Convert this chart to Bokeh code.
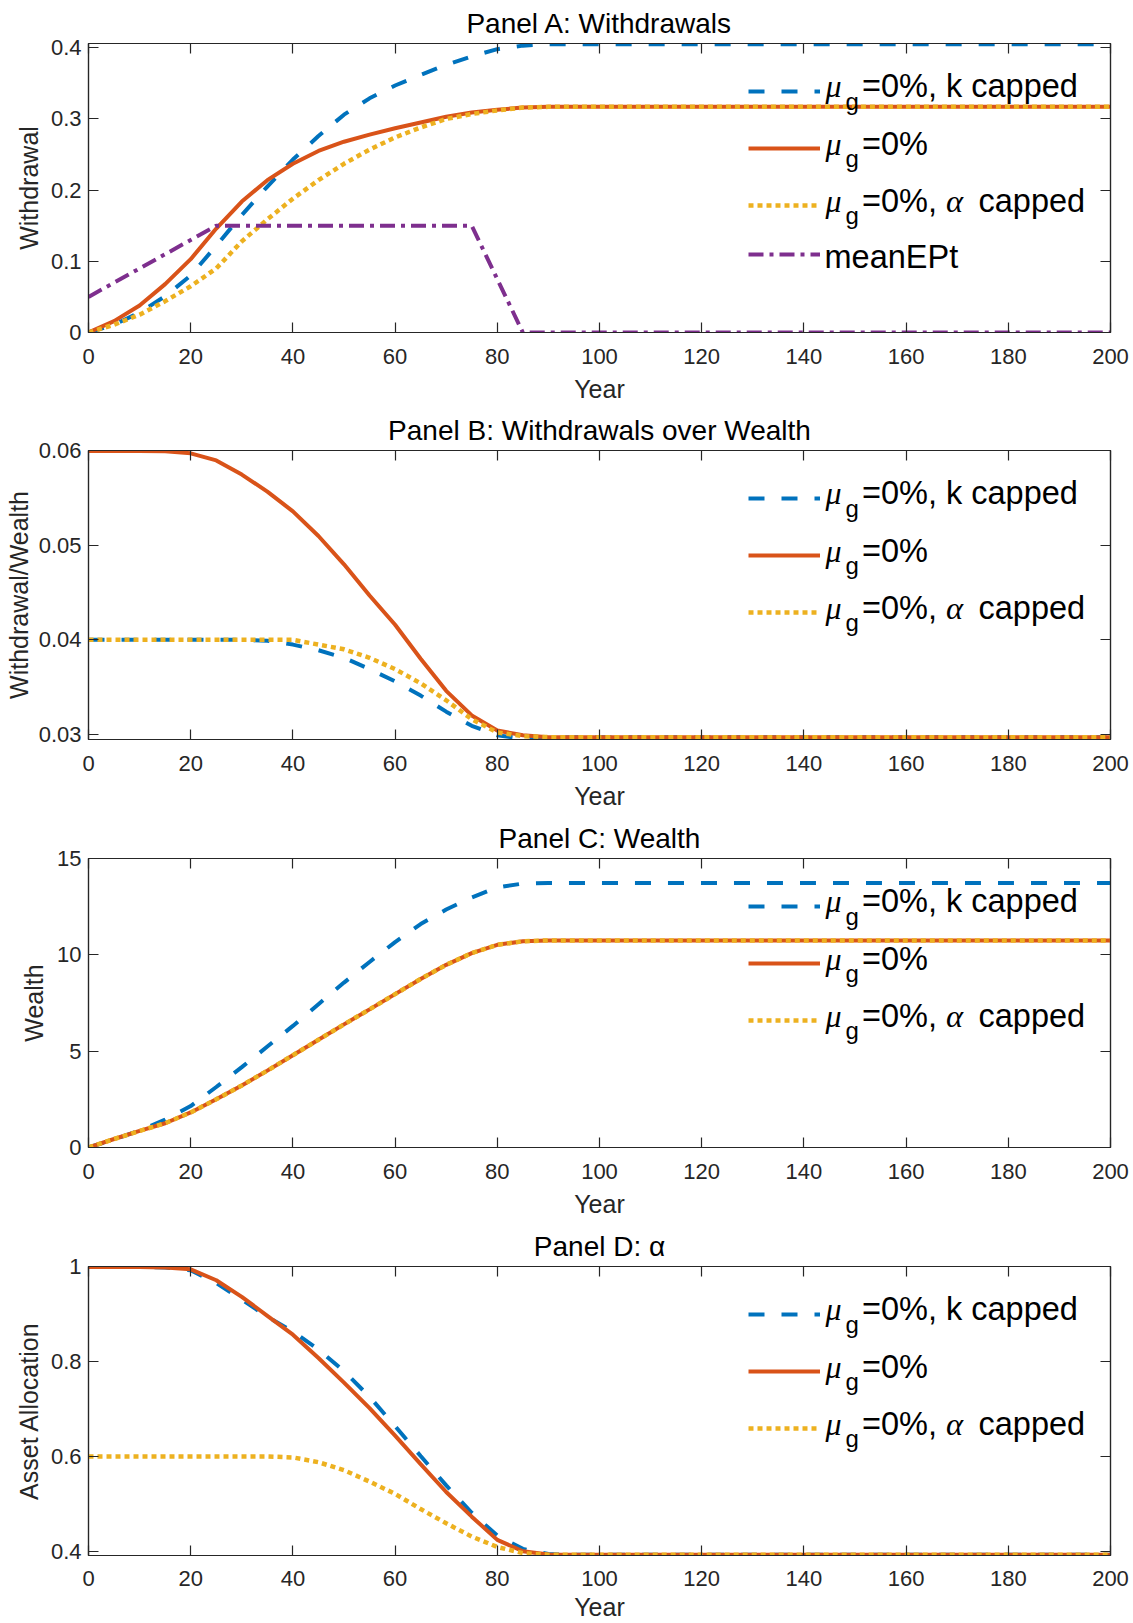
from bokeh.plotting import figure
from bokeh.models import (Range1d, FixedTicker, LinearAxis, NumeralTickFormatter,
                          Label, Legend, LegendItem, CustomLabelingPolicy)
from bokeh.layouts import column
from bokeh.embed import file_html
from bokeh.resources import INLINE

# ---------------- data ----------------
years = [0, 5, 10, 15, 20, 25, 30, 35, 40, 45, 50, 55, 60, 65, 70, 75, 80, 85, 90, 95, 100, 200]

# Panel A: withdrawals
wd_kcap = [0, 0.011, 0.028, 0.051, 0.080, 0.122, 0.165, 0.205, 0.243, 0.276, 0.306, 0.329,
           0.347, 0.362, 0.376, 0.388, 0.398, 0.403, 0.405, 0.405, 0.405, 0.405]
wd_base = [0, 0.016, 0.038, 0.068, 0.103, 0.146, 0.184, 0.214, 0.237, 0.255, 0.268, 0.278,
           0.287, 0.295, 0.303, 0.309, 0.313, 0.316, 0.317, 0.317, 0.317, 0.317]
wd_acap = [0, 0.011, 0.025, 0.044, 0.065, 0.090, 0.128, 0.159, 0.188, 0.214, 0.237, 0.257,
           0.274, 0.288, 0.300, 0.307, 0.312, 0.316, 0.317, 0.317, 0.317, 0.317]
mean_ep = [0.05, 0.07, 0.09, 0.11, 0.13, 0.15, 0.15, 0.15, 0.15, 0.15, 0.15, 0.15,
           0.15, 0.15, 0.15, 0.15, 0.075, 0, 0, 0, 0, 0]

# Panel B: withdrawals over wealth
ratio_kcap = [0.04, 0.04, 0.04, 0.04, 0.04, 0.04, 0.04, 0.0399, 0.0395, 0.0389, 0.0381, 0.0369,
              0.0356, 0.0341, 0.0324, 0.0309, 0.0299, 0.02955, 0.0296, 0.0297, 0.0297, 0.0297]
ratio_base = [0.06, 0.06, 0.06, 0.05998, 0.05975, 0.0590, 0.0575, 0.0557, 0.0536, 0.0510, 0.0480,
              0.0447, 0.0416, 0.0380, 0.0346, 0.0320, 0.0304, 0.0299, 0.0297, 0.0297, 0.0297, 0.0297]
ratio_acap = [0.04, 0.04, 0.04, 0.04, 0.04, 0.04, 0.04, 0.04, 0.04, 0.0395, 0.0390, 0.0381,
              0.0369, 0.0354, 0.0336, 0.0316, 0.0302, 0.0298, 0.0297, 0.0297, 0.0297, 0.0297]

# Panel C: wealth
wealth_kcap = [0, 0.42, 0.88, 1.45, 2.15, 3.14, 4.17, 5.24, 6.31, 7.44, 8.56, 9.63,
               10.66, 11.6, 12.35, 12.98, 13.5, 13.7, 13.73, 13.73, 13.73, 13.73]
wealth_base = [0, 0.44, 0.86, 1.26, 1.82, 2.50, 3.22, 3.99, 4.79, 5.59, 6.39, 7.17,
               7.96, 8.75, 9.48, 10.09, 10.52, 10.70, 10.75, 10.75, 10.75, 10.75]
wealth_acap = [0, 0.44, 0.86, 1.26, 1.82, 2.50, 3.22, 3.99, 4.79, 5.59, 6.39, 7.17,
               7.96, 8.75, 9.48, 10.09, 10.52, 10.70, 10.75, 10.75, 10.75, 10.75]

# Panel D: asset allocation
alloc_kcap = [1.0, 1.0, 1.0, 0.999, 0.993, 0.966, 0.931, 0.895, 0.864, 0.826, 0.780, 0.726,
              0.664, 0.601, 0.539, 0.481, 0.433, 0.405, 0.394, 0.3925, 0.3925, 0.3925]
alloc_base = [1.0, 1.0, 1.0, 0.999, 0.995, 0.972, 0.937, 0.897, 0.857, 0.808, 0.756, 0.702,
              0.644, 0.584, 0.525, 0.473, 0.424, 0.400, 0.393, 0.3925, 0.3925, 0.3925]
alloc_acap = [0.6, 0.6, 0.6, 0.6, 0.6, 0.6, 0.6, 0.6, 0.598, 0.588, 0.571, 0.547,
              0.521, 0.489, 0.459, 0.431, 0.409, 0.396, 0.3925, 0.3925, 0.3925, 0.3925]

x_ticks = [0, 20, 40, 60, 80, 100, 120, 140, 160, 180, 200]

# ---------------- styling ----------------
BLUE, ORANGE, YELLOW, PURPLE = "#0072BD", "#D95319", "#EDB120", "#7E2F8E"
AX = "#262626"
SANS = "Liberation Sans"
SERIF = "Liberation Serif"
FRAME_H = 289
TOP = 43
STYLE = {
    "k": dict(line_color=BLUE, line_width=4, line_dash="16 17"),
    "base": dict(line_color=ORANGE, line_width=4, line_dash="solid"),
    "a": dict(line_color=YELLOW, line_width=4.5, line_dash="5 4"),
    "ep": dict(line_color=PURPLE, line_width=4, line_dash="15 6 4 6"),
}
HIDE = CustomLabelingPolicy(code="""
try { for (const i of [...indices]) { indices.unset(i) } } catch (e) {}
return indices
""")


def style_axis(ax, show):
    ax.axis_line_color = AX
    ax.axis_line_width = 1.2
    ax.major_tick_line_color = AX
    ax.major_tick_line_width = 1.2
    ax.major_tick_in = 10
    ax.major_tick_out = 0
    ax.minor_tick_line_color = None
    ax.major_label_text_font = SANS
    ax.major_label_text_color = AX
    ax.axis_label_text_font = SANS
    ax.axis_label_text_font_size = "25px"
    ax.axis_label_text_font_style = "normal"
    ax.axis_label_text_color = AX
    ax.formatter = NumeralTickFormatter(format="0.[00]")
    if show:
        ax.major_label_text_font_size = "22px"
    else:
        ax.major_label_text_font_size = "0px"
        ax.major_label_text_color = None
        ax.major_label_standoff = 0
        ax.major_label_policy = HIDE


def panel(title, ylabel, yrange, yticks, height, xl_std, xa_std, ya_std):
    p = figure(width=1130, height=height, x_range=Range1d(0, 200), y_range=Range1d(*yrange),
               output_backend="svg", toolbar_location=None,
               min_border_left=88, min_border_right=20, min_border_top=TOP,
               min_border_bottom=height - TOP - FRAME_H,
               x_axis_label="Year", y_axis_label=ylabel)
    p.title.text = title
    p.title.align = "center"
    p.title.text_font = SANS
    p.title.text_font_size = "28px"
    p.title.text_font_style = "normal"
    p.title.text_color = "#000000"
    p.title.standoff = 10
    p.xgrid.visible = False
    p.ygrid.visible = False
    p.outline_line_color = AX
    p.outline_line_width = 1.2
    p.background_fill_color = "white"
    p.border_fill_color = "white"

    xt = FixedTicker(ticks=x_ticks)
    yt = FixedTicker(ticks=yticks)
    p.xaxis.ticker = xt
    p.yaxis.ticker = yt
    style_axis(p.xaxis[0], True)
    style_axis(p.yaxis[0], True)
    p.xaxis[0].major_label_standoff = xl_std
    p.xaxis[0].axis_label_standoff = xa_std
    p.yaxis[0].major_label_standoff = 7
    p.yaxis[0].axis_label_standoff = ya_std

    top_ax = LinearAxis(ticker=xt)
    style_axis(top_ax, False)
    p.add_layout(top_ax, "above")
    right_ax = LinearAxis(ticker=yt)
    style_axis(right_ax, False)
    p.add_layout(right_ax, "right")
    return p


def lines(p, series):
    return {key: p.line(years, vals, **STYLE[key]) for key, vals in series}


def label(p, x, mid_from_top, text, size, font, style="normal"):
    p.add_layout(Label(x=x, y=FRAME_H - mid_from_top, x_units="screen", y_units="screen",
                       text=text, text_font=font, text_font_size=size, text_font_style=style,
                       text_color="#000000", text_baseline="middle", text_align="left"))


def legend(p, rs, rows):
    for key, c in rows:
        leg = Legend(items=[LegendItem(label=" ", renderers=[rs[key]])],
                     location=(660, FRAME_H - c - 10), glyph_width=72, glyph_height=20,
                     label_height=20, label_width=0, label_standoff=0, padding=0, margin=0,
                     spacing=0, border_line_color=None, background_fill_alpha=0,
                     label_text_font_size="1px")
        p.add_layout(leg)
        if key == "ep":
            label(p, 736, c + 2.5, "meanEPt", "32.5px", SANS)
            continue
        label(p, 737, c - 4.8, "μ", "32px", SERIF, "italic")
        label(p, 757, c + 10.2, "g", "24px", SANS)
        if key == "k":
            label(p, 773.5, c - 5, "=0%, k capped", "32.5px", SANS)
        elif key == "base":
            label(p, 773.5, c - 5, "=0%", "32.5px", SANS)
        else:
            label(p, 773.5, c - 5, "=0%,", "32.5px", SANS)
            label(p, 857.5, c - 5, "α", "32.5px", SERIF, "italic")
            label(p, 890, c - 5, "capped", "32.5px", SANS)


ROWS3 = [("k", 47.5), ("base", 105), ("a", 162)]

pA = panel("Panel A: Withdrawals", "Withdrawal", (0, 0.406), [0, 0.1, 0.2, 0.3, 0.4],
           407, 16, 8, 5)
rA = lines(pA, [("k", wd_kcap), ("base", wd_base), ("a", wd_acap), ("ep", mean_ep)])
legend(pA, rA, ROWS3 + [("ep", 211)])

pB = panel("Panel B: Withdrawals over Wealth", "Withdrawal/Wealth", (0.02945, 0.06005),
           [0.03, 0.04, 0.05, 0.06], 408, 16, 8, 3)
rB = lines(pB, [("k", ratio_kcap), ("base", ratio_base), ("a", ratio_acap)])
legend(pB, rB, ROWS3)

pC = panel("Panel C: Wealth", "Wealth", (0, 15), [0, 5, 10, 15], 408, 16, 8, 6)
rC = lines(pC, [("k", wealth_kcap), ("base", wealth_base), ("a", wealth_acap)])
legend(pC, rC, ROWS3)

pD = panel("Panel D: α", "Asset Allocation", (0.391, 1.001), [0.4, 0.6, 0.8, 1],
           400, 15, 4, 5)
rD = lines(pD, [("k", alloc_kcap), ("base", alloc_base), ("a", alloc_acap)])
legend(pD, rD, ROWS3)

layout = column(pA, pB, pC, pD, spacing=0)
open("out.html", "w").write(file_html(layout, INLINE))
